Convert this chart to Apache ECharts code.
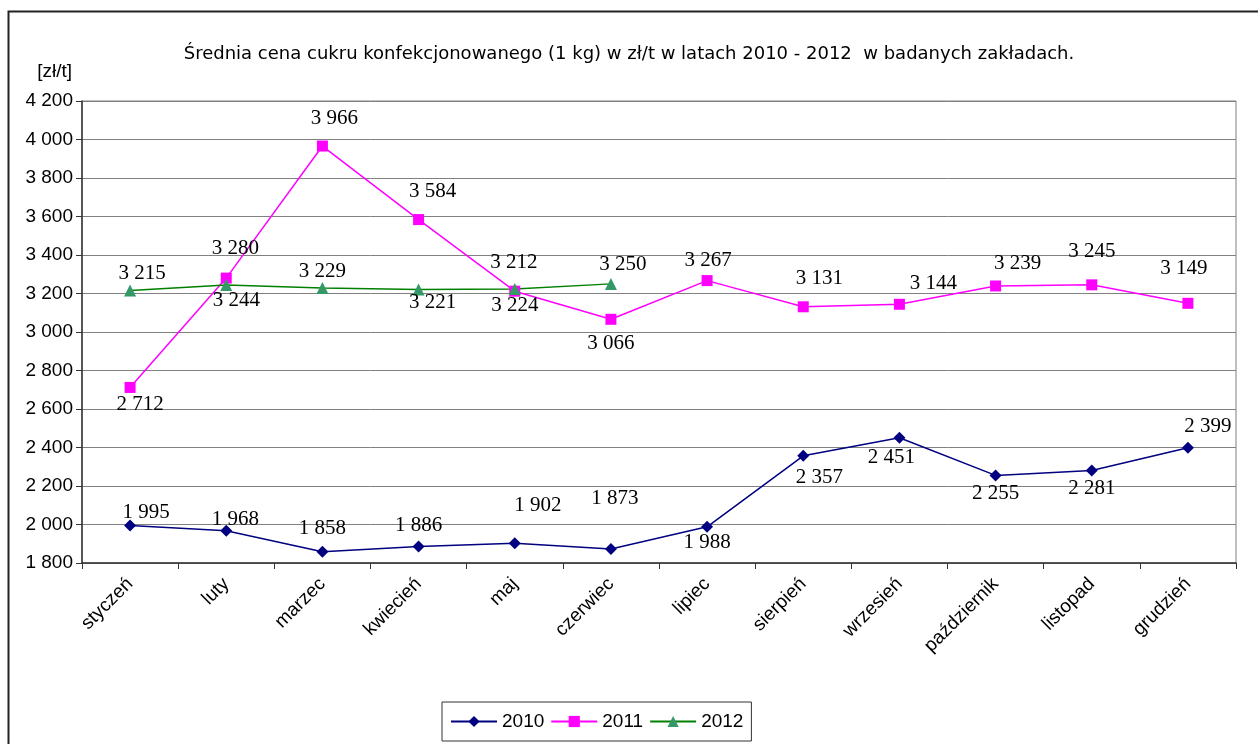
<!DOCTYPE html>
<html><head><meta charset="utf-8">
<script src="https://cdn.jsdelivr.net/npm/echarts@6/dist/echarts.min.js"></script>
<style>html,body{margin:0;padding:0;background:#fff}#c{width:1258px;height:744px}</style>
</head><body><div id="c"></div>
<script>
const categories = ['styczeń','luty','marzec','kwiecień','maj','czerwiec','lipiec','sierpień','wrzesień','październik','listopad','grudzień'];
const s2010 = [1995,1968,1858,1886,1902,1873,1988,2357,2451,2255,2281,2399];
const s2011 = [2712,3280,3966,3584,3212,3066,3267,3131,3144,3239,3245,3149];
const s2012 = [3215,3244,3229,3221,3224,3250];
const yTicks = [1800,2000,2200,2400,2600,2800,3000,3200,3400,3600,3800,4000,4200];

// label offsets (layout only)
const off2010 = [[16,-13],[9,-11],[0,-23],[0,-21],[23,-38],[4,-50],[0,16],[16,22],[-8,20],[0,18],[0,18],[20,-21]];
const off2011 = [[10,17],[9,-30],[12,-28],[14,-28],[-1,-29],[0,24],[1,-20],[16,-28],[34,-21],[22,-23],[0,-33],[-4,-35]];
const off2012 = [[12,-17],[10,15],[0,-16],[14,13],[0,17],[12,-19]];

const fmt = v => { const s = String(v); return s.length > 3 ? s.slice(0, s.length-3) + ' ' + s.slice(-3) : s; };
const build = (vals, offs) => vals.map((v,i) => ({value: v, label: {offset: offs[i]}}));
const lbl = {show: true, position: 'inside', formatter: p => fmt(p.value), fontFamily: 'Liberation Serif', fontSize: 21, color: '#000'};

const chart = echarts.init(document.getElementById('c'));
chart.setOption({
  animation: false,
  backgroundColor: '#fff',
  title: {text: 'Średnia cena cukru konfekcjonowanego (1 kg) w zł/t w latach 2010 - 2012  w badanych zakładach.', left: 'center', top: 40,
    textStyle: {fontFamily: 'DejaVu Sans', fontSize: 18, fontWeight: 'normal', color: '#000'}},
  graphic: [{type: 'rect', left: 6, top: 9, shape: {width: 1300, height: 800}, style: {fill: 'none', stroke: '#222', lineWidth: 2}, silent: true}],
  grid: {left: 82, right: 22, top: 101, bottom: 181, show: true, borderColor: '#808080', borderWidth: 1},
  legend: {top: 702, left: 442, padding: [10, 8, 10, 8], borderColor: '#333', borderWidth: 1, itemWidth: 46, itemHeight: 14, itemGap: 6,
    textStyle: {fontFamily: 'Liberation Sans', fontSize: 19, color: '#000'}, data: ['2010','2011','2012']},
  xAxis: {type: 'category', data: categories, boundaryGap: true,
    axisLine: {lineStyle: {color: '#333', width: 1.5}}, axisTick: {show: true, length: 6, lineStyle: {color: '#333'}},
    axisLabel: {rotate: 45, margin: 18, fontFamily: 'Liberation Sans', fontSize: 19, color: '#000', interval: 0}},
  yAxis: {type: 'value', min: yTicks[0], max: yTicks[yTicks.length-1], interval: 200,
    name: '[zł/t]', nameLocation: 'end', nameGap: 20, nameTextStyle: {fontFamily: 'Liberation Sans', fontSize: 19, color: '#000', align: 'right', padding: [0, 10, 0, 0]},
    axisLine: {show: true, lineStyle: {color: '#333', width: 1.5}}, axisTick: {show: true, length: 6, lineStyle: {color: '#333'}},
    axisLabel: {formatter: fmt, fontFamily: 'Liberation Sans', fontSize: 19, color: '#000', margin: 9},
    splitLine: {lineStyle: {color: '#808080', width: 1}}},
  series: [
    {name: '2010', type: 'line', data: build(s2010, off2010), symbol: 'diamond', symbolSize: 12, showAllSymbol: true,
      lineStyle: {color: '#000080', width: 1.5}, itemStyle: {color: '#000080'}, label: lbl},
    {name: '2011', type: 'line', data: build(s2011, off2011), symbol: 'rect', symbolSize: 11, showAllSymbol: true,
      lineStyle: {color: '#FF00FF', width: 1.5}, itemStyle: {color: '#FF00FF'}, label: lbl},
    {name: '2012', type: 'line', data: build(s2012, off2012), symbol: 'triangle', symbolSize: 12, showAllSymbol: true,
      lineStyle: {color: '#008000', width: 1.5}, itemStyle: {color: '#339966'}, label: lbl}
  ]
});
</script></body></html>
